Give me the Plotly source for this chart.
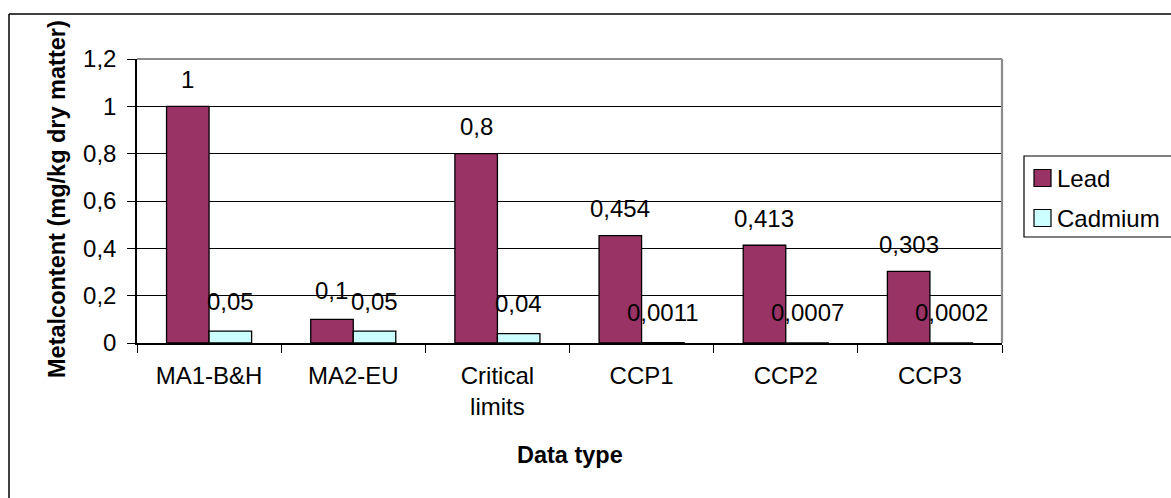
import plotly.graph_objects as go

# Data
categories = ["MA1-B&H", "MA2-EU", "Critical<br>limits", "CCP1", "CCP2", "CCP3"]
lead = [1.0, 0.1, 0.8, 0.454, 0.413, 0.303]
cadmium = [0.05, 0.05, 0.04, 0.0011, 0.0007, 0.0002]
series_names = ["Lead", "Cadmium"]
y_ticks = [0, 0.2, 0.4, 0.6, 0.8, 1.0, 1.2]
y_tick_labels = ["0", "0,2", "0,4", "0,6", "0,8", "1", "1,2"]

LEAD_COLOR = "#993366"
CAD_COLOR = "#CCFFFF"
FONT = "Liberation Sans, Arial, sans-serif"
FS = 24
FS_BOLD = 23.5

W, H = 1171, 498
L, R, T, B = 137, 169, 59, 155
PW, PH = W - L - R, H - T - B
Y_MAX = 1.2
BARGAP = 0.41


def px_x(px):
    return (px - L) / PW


def px_y(py):
    return (H - B - py) / PH


def comma(v):
    return f"{v:g}".replace(".", ",")


fig = go.Figure()
for name, vals, col in [(series_names[0], lead, LEAD_COLOR), (series_names[1], cadmium, CAD_COLOR)]:
    fig.add_trace(go.Bar(
        x=categories, y=vals, name=name,
        marker=dict(color=col, line=dict(color="black", width=1.3)),
        showlegend=False,
    ))

# value labels above each bar
cat_w = PW / len(categories)
bar_w = cat_w * (1 - BARGAP) / 2
px_per_unit = PH / Y_MAX
annotations = []
for i, cat in enumerate(categories):
    cad_shift = 30
    lead_shift = 27
    # keep the lead label clear of the neighbouring cadmium label
    lead_center = lead[i] * px_per_unit + lead_shift
    cad_center = cadmium[i] * px_per_unit + cad_shift
    if abs(lead_center - cad_center) < 11:
        lead_shift = cad_center + 11 - lead[i] * px_per_unit
    annotations.append(dict(
        x=cat, y=lead[i], xref="x", yref="y", text=comma(lead[i]),
        xshift=-bar_w / 2, yshift=lead_shift, showarrow=False,
        yanchor="middle", font=dict(family=FONT, size=FS, color="black")))
    annotations.append(dict(
        x=cat, y=cadmium[i], xref="x", yref="y", text=comma(cadmium[i]),
        xshift=bar_w / 2, yshift=cad_shift, showarrow=False,
        yanchor="middle", font=dict(family=FONT, size=FS, color="black")))

# axis titles
annotations.append(dict(
    x=px_x(57), y=px_y(199), xref="paper", yref="paper",
    text="<b>Metalcontent (mg/kg dry matter)</b>", textangle=-90,
    showarrow=False, xanchor="center", yanchor="middle",
    font=dict(family=FONT, size=FS_BOLD, color="black")))
annotations.append(dict(
    x=px_x(570), y=px_y(455), xref="paper", yref="paper",
    text="<b>Data type</b>", showarrow=False, xanchor="center", yanchor="middle",
    font=dict(family=FONT, size=FS_BOLD, color="black")))

# legend entries
shapes = []
legend_rows = [(series_names[0], LEAD_COLOR, 178), (series_names[1], CAD_COLOR, 218)]
shapes.append(dict(type="rect", xref="paper", yref="paper",
                   x0=px_x(1024), x1=px_x(1230), y0=px_y(237), y1=px_y(156),
                   line=dict(color="black", width=1.2), fillcolor="white", layer="below"))
for name, col, cy in legend_rows:
    shapes.append(dict(type="rect", xref="paper", yref="paper",
                       x0=px_x(1034), x1=px_x(1051), y0=px_y(cy + 8.5), y1=px_y(cy - 8.5),
                       line=dict(color="black", width=1.2), fillcolor=col))
    annotations.append(dict(
        x=px_x(1055), y=px_y(cy), xref="paper", yref="paper", text=name,
        showarrow=False, xanchor="left", yanchor="middle",
        font=dict(family=FONT, size=FS, color="black")))

# plot-area top and right borders (grey)
shapes.append(dict(type="line", xref="paper", yref="paper", x0=0, x1=1, y0=1, y1=1,
                   line=dict(color="#8c8c8c", width=2.2)))
shapes.append(dict(type="line", xref="paper", yref="paper", x0=1, x1=1, y0=0, y1=1,
                   line=dict(color="#8c8c8c", width=2.2)))
# outer chart frame
shapes.append(dict(type="line", xref="paper", yref="paper",
                   x0=px_x(9), x1=px_x(1200), y0=px_y(14), y1=px_y(14),
                   line=dict(color="black", width=1.5)))
shapes.append(dict(type="line", xref="paper", yref="paper",
                   x0=px_x(9), x1=px_x(9), y0=px_y(14), y1=px_y(520),
                   line=dict(color="black", width=1.5)))

fig.update_layout(
    width=W, height=H,
    margin=dict(l=L, r=R, t=T, b=B, pad=0),
    paper_bgcolor="white", plot_bgcolor="white",
    barmode="group", bargap=BARGAP, bargroupgap=0,
    font=dict(family=FONT, size=FS, color="black"),
    showlegend=False,
    annotations=annotations,
    shapes=shapes,
)
fig.update_xaxes(
    type="category", showline=True, linecolor="black", linewidth=1.5,
    ticks="outside", ticklen=8, tickcolor="black", tickwidth=1, tickson="boundaries",
    showgrid=False, ticklabelstandoff=10,
    tickfont=dict(family=FONT, size=FS, color="black"),
)
fig.update_yaxes(
    range=[0, Y_MAX], tickvals=y_ticks, ticktext=y_tick_labels,
    showline=True, linecolor="black", linewidth=1.5,
    ticks="outside", ticklen=8, tickcolor="black", tickwidth=1,
    showgrid=True, gridcolor="black", gridwidth=1, zeroline=False,
    ticklabelstandoff=6,
    tickfont=dict(family=FONT, size=FS, color="black"),
)

fig.write_html("out.html")
